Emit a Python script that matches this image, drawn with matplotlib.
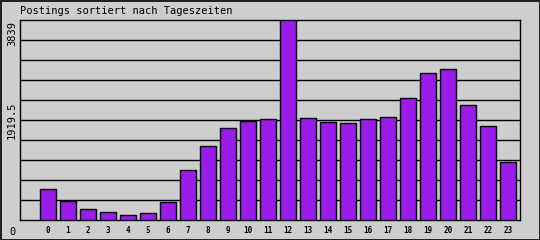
import matplotlib
matplotlib.use("Agg")
import matplotlib.pyplot as plt

# postings per hour of day
hours = list(range(24))
hour_labels = [str(h) for h in hours]
postings = [595, 365, 211, 154, 96, 134, 346, 960, 1420, 1766, 1906, 1939,
            3839, 1958, 1881, 1862, 1939, 1977, 2342, 2822, 2898, 2207, 1804, 1113]
y_max = 3839

bg = '#cecece'
bar_color = '#9a1ce9'
mono = 'DejaVu Sans Mono'

fig = plt.figure(figsize=(5.4, 2.4), dpi=100)
fig.patch.set_facecolor(bg)
fig.patch.set_edgecolor('#222222')
fig.patch.set_linewidth(0.8)

# plot area: x 20..520, y 20..220 (pixels)
ax = fig.add_axes([20 / 540, 20 / 240, 500 / 540, 200 / 240])
ax.set_facecolor(bg)
ax.bar(hours, postings, width=0.78, color=bar_color, edgecolor='black',
       linewidth=1.0, zorder=3)
ax.set_xlim(-1.4, 23.6)
ax.set_ylim(0, y_max)

for i in range(1, 10):
    ax.axhline(y_max * i / 10, color='black', linewidth=1.0, zorder=1)
for s in ax.spines.values():
    s.set_color('black')
    s.set_linewidth(1.0)

ax.set_xticks(hours)
ax.set_xticklabels(hour_labels, fontsize=5.5, family=mono, fontweight='bold')
ax.tick_params(axis='x', length=0, pad=4)
ax.set_yticks([])

fig.text(20 / 540, 1 - 11 / 240, 'Postings sortiert nach Tageszeiten',
         fontsize=7.5, family=mono, ha='left', va='center')
fig.text(12 / 540, 1 - 21 / 240, str(y_max), rotation=90, fontsize=7.5,
         family=mono, ha='center', va='top')
fig.text(12 / 540, 1 - 120 / 240, str(y_max / 2), rotation=90, fontsize=7.5,
         family=mono, ha='center', va='center')
fig.text(12 / 540, 1 - 232 / 240, '0', fontsize=7.5, family=mono,
         ha='center', va='center')

fig.savefig('out.png', dpi=100, facecolor=bg, edgecolor=fig.get_edgecolor())
